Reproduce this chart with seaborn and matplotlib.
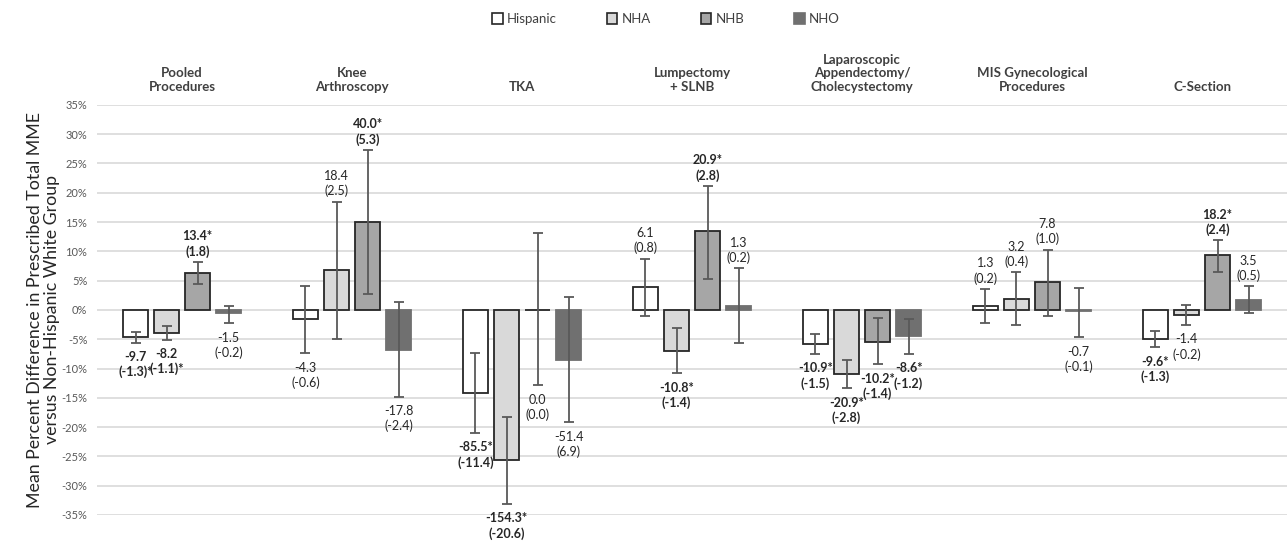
import numpy as np
import pandas as pd
import matplotlib
matplotlib.use("Agg")
import matplotlib.pyplot as plt
import seaborn as sns
from matplotlib.patches import Patch

# ---------------- data ----------------
categories = ["Pooled\nProcedures", "Knee\nArthroscopy", "TKA", "Lumpectomy\n+ SLNB",
              "Laparoscopic\nAppendectomy/\nCholecystectomy", "MIS Gynecological\nProcedures",
              "C-Section"]
groups = ["Hispanic", "NHA", "NHB", "NHO"]

# bar heights (mean percent difference, %)
hispanic = [-4.7, -1.6, -14.2, 3.9, -5.9, 0.7, -5.0]
nha = [-4.0, 6.8, -25.6, -7.0, -11.0, 1.9, -0.9]
nhb = [6.3, 15.0, -0.1, 13.4, -5.4, 4.7, 9.3]
nho = [-0.6, -6.8, -8.5, 0.6, -4.5, -0.2, 1.7]

# confidence interval bounds (%)
hispanic_lo = [-5.6, -7.4, -21.0, -1.0, -7.5, -2.2, -6.4]
hispanic_hi = [-3.7, 4.1, -7.4, 8.75, -4.1, 3.6, -3.6]
nha_lo = [-5.1, -4.9, -33.1, -10.8, -13.4, -2.6, -2.6]
nha_hi = [-2.7, 18.5, -18.3, -3.1, -8.6, 6.4, 0.9]
nhb_lo = [4.4, 2.7, -12.9, 5.3, -9.3, -1.0, 6.5]
nhb_hi = [8.2, 27.3, 13.1, 21.2, -1.4, 10.3, 11.9]
nho_lo = [-2.3, -14.8, -19.2, -5.6, -7.5, -4.7, -0.6]
nho_hi = [0.7, 1.4, 2.2, 7.1, -1.6, 3.7, 4.0]

# annotation labels
hispanic_lab = ["-9.7\n(-1.3)*", "-4.3\n(-0.6)", "-85.5*\n(-11.4)", "6.1\n(0.8)",
                "-10.9*\n(-1.5)", "1.3\n(0.2)", "-9.6*\n(-1.3)"]
nha_lab = ["-8.2\n(-1.1)*", "18.4\n(2.5)", "-154.3*\n(-20.6)", "-10.8*\n(-1.4)",
           "-20.9*\n(-2.8)", "3.2\n(0.4)", "-1.4\n(-0.2)"]
nhb_lab = ["13.4*\n(1.8)", "40.0*\n(5.3)", "0.0\n(0.0)", "20.9*\n(2.8)",
           "-10.2*\n(-1.4)", "7.8\n(1.0)", "18.2*\n(2.4)"]
nho_lab = ["-1.5\n(-0.2)", "-17.8\n(-2.4)", "-51.4\n(6.9)", "1.3\n(0.2)",
           "-8.6*\n(-1.2)", "-0.7\n(-0.1)", "3.5\n(0.5)"]
hispanic_bold = [True, False, True, False, True, False, True]
nha_bold = [True, False, True, True, True, False, False]
nhb_bold = [True, True, False, True, True, False, True]
nho_bold = [False, False, False, False, True, False, False]

y_ticks = list(range(-35, 40, 5))

# ---------------- style ----------------
sns.set_theme(style="white")
plt.rcParams["font.family"] = ["Lato", "DejaVu Sans"]

fills = {"Hispanic": "#ffffff", "NHA": "#d9d9d9", "NHB": "#a6a6a6", "NHO": "#707070"}
edges = {"Hispanic": "#262626", "NHA": "#262626", "NHB": "#262626", "NHO": "#707070"}

vals = [hispanic, nha, nhb, nho]
los = [hispanic_lo, nha_lo, nhb_lo, nho_lo]
his = [hispanic_hi, nha_hi, nhb_hi, nho_hi]
labs = [hispanic_lab, nha_lab, nhb_lab, nho_lab]
bolds = [hispanic_bold, nha_bold, nhb_bold, nho_bold]

rows = []
for g, v in zip(groups, vals):
    for c, y in zip(categories, v):
        rows.append({"category": c, "group": g, "value": y})
df = pd.DataFrame(rows)

fig = plt.figure(figsize=(12.87, 5.46), dpi=100)
ax = fig.add_axes([0.0754, 0.0568, 0.9246, 0.7512])

sns.barplot(data=df, x="category", y="value", hue="group", order=categories,
            hue_order=groups, palette=fills, width=0.73, gap=0.19,
            errorbar=None, ax=ax, legend=False, zorder=2)

for cont, g in zip(ax.containers, groups):
    for bar in cont:
        bar.set_edgecolor(edges[g])
        bar.set_linewidth(1.3)

# error bars and labels
for gi, (cont, g) in enumerate(zip(ax.containers, groups)):
    xs = np.array([b.get_x() + b.get_width() / 2 for b in cont])
    v = np.array(vals[gi])
    lo = np.array(los[gi])
    hi = np.array(his[gi])
    ax.errorbar(xs, v, yerr=[v - lo, hi - v], fmt="none", ecolor="#595959",
                elinewidth=1.3, capsize=3.5, capthick=1.3, zorder=3)
    for x, val, l, h, t, b in zip(xs, v, lo, hi, labs[gi], bolds[gi]):
        if val >= 0:
            ax.annotate(t, (x, h), xytext=(0, 3), textcoords="offset points",
                        ha="center", va="bottom", fontsize=9,
                        fontweight="bold" if b else "normal", color="#262626",
                        linespacing=1.25)
        else:
            ax.annotate(t, (x, l), xytext=(0, -6), textcoords="offset points",
                        ha="center", va="top", fontsize=9,
                        fontweight="bold" if b else "normal", color="#262626",
                        linespacing=1.25)

# category labels above plot
for i, c in enumerate(categories):
    ax.text(i, 1.03, c, transform=ax.get_xaxis_transform(), ha="center",
            va="bottom", fontsize=9.5, fontweight="bold", color="#404040",
            linespacing=1.15)

ax.set_xlim(-0.5, len(categories) - 0.5)
ax.set_ylim(-35, 35)
ax.set_yticks(y_ticks)
ax.set_yticklabels([f"{t}%" for t in y_ticks], fontsize=8, color="#595959")
ax.set_xticks([])
ax.set_xlabel("")
ax.set_ylabel("Mean Percent Difference in Prescribed Total MME\nversus Non-Hispanic White Group",
              fontsize=12.8, color="#262626", linespacing=1.05, labelpad=1)
ax.tick_params(axis="y", length=0, pad=7)
ax.grid(axis="y", color="#d9d9d9", linewidth=1.2, zorder=0)
ax.set_axisbelow(True)
for s in ax.spines.values():
    s.set_visible(False)

handles = [Patch(facecolor=fills[g], edgecolor=edges[g], linewidth=1.2, label=g) for g in groups]
fig.legend(handles=handles, loc="center", bbox_to_anchor=(0.5175, 0.965), ncol=4,
           frameon=False, fontsize=9.5, handlelength=0.8, handleheight=0.8,
           handletextpad=0.3, columnspacing=3.8, labelcolor="#404040")

fig.savefig("out.png", dpi=100)
